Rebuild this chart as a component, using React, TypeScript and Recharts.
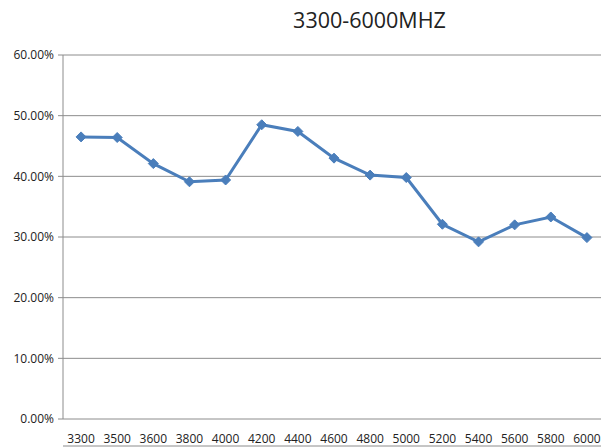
import React from "react";
import { LineChart, Line, XAxis, YAxis, CartesianGrid } from "recharts";

const categories = ["3300", "3500", "3600", "3800", "4000", "4200", "4400", "4600", "4800", "5000", "5200", "5400", "5600", "5800", "6000"];
const values = [0.465, 0.464, 0.421, 0.391, 0.394, 0.485, 0.474, 0.43, 0.402, 0.398, 0.321, 0.292, 0.32, 0.333, 0.299];
const yTicks = [0, 0.1, 0.2, 0.3, 0.4, 0.5, 0.6];
const boundaryTicks = Array.from({ length: categories.length + 1 }, (_, i) => i);

const data = categories.map((c, i) => ({ name: c, value: values[i] }));

const font = "'Open Sans', 'Noto Sans', sans-serif";

const Diamond = (props: any) => {
  const { cx, cy, index } = props;
  if (cx == null || cy == null) return null;
  const r = 5;
  return (
    <path
      key={index}
      d={`M${cx},${cy - r}L${cx + r},${cy}L${cx},${cy + r}L${cx - r},${cy}Z`}
      fill="#4A7EBB"
      stroke="#4A7EBB"
    />
  );
};

export default function App() {
  return (
    <div style={{ position: "absolute", left: 0, top: 0, width: 601, height: 447, overflow: "hidden", background: "#fff" }}>
      <div style={{ position: "absolute", left: 0, top: 5, width: 601, textAlign: "center", paddingLeft: 138, boxSizing: "border-box", fontFamily: font, fontSize: 21.5, color: "#222" }}>
        3300-6000MHZ
      </div>
      <LineChart width={605} height={447} data={data} margin={{ top: 55, right: 0, left: 0, bottom: 0 }}>
        <CartesianGrid vertical={false} stroke="#8c8c8c" strokeWidth={1} />
        <XAxis
          xAxisId="edges"
          type="number"
          domain={[0, categories.length]}
          ticks={boundaryTicks}
          interval={0}
          axisLine={{ stroke: "#8c8c8c" }}
          tickLine={{ stroke: "#8c8c8c" }}
          tickSize={5}
          tick={false}
          height={1}
        />
        <XAxis
          dataKey="name"
          scale="band"
          interval={0}
          tickLine={false}
          axisLine={false}
          tickMargin={9}
          height={27}
          tick={{ fontSize: 12, fill: "#222", fontFamily: font }}
        />
        <YAxis
          width={63}
          domain={[0, 0.6]}
          ticks={yTicks}
          interval={0}
          tickFormatter={(v: number) => `${(v * 100).toFixed(2)}%`}
          axisLine={{ stroke: "#8c8c8c" }}
          tickLine={{ stroke: "#8c8c8c" }}
          tickSize={5}
          tickMargin={4}
          tick={{ fontSize: 12, fill: "#222", fontFamily: font }}
        />
        <Line
          type="linear"
          dataKey="value"
          stroke="#4A7EBB"
          strokeWidth={3}
          dot={Diamond}
          activeDot={false}
          isAnimationActive={false}
        />
      </LineChart>
    </div>
  );
}
